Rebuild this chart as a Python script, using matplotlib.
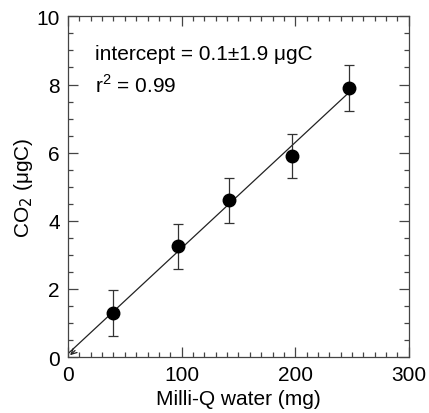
import numpy as np
import matplotlib.pyplot as plt
from matplotlib.ticker import MultipleLocator

plt.rcParams['font.family'] = ['Liberation Sans', 'DejaVu Sans']

# Measured points
water_mg = [40, 97, 142, 197, 247]
co2_ugC = [1.3, 3.25, 4.6, 5.9, 7.9]
co2_err = [0.67, 0.67, 0.67, 0.65, 0.67]

# Linear fit
slope = 0.031
intercept = 0.1

fs = 15

fig = plt.figure(figsize=(4.29, 4.14), dpi=100)
ax = fig.add_axes([0.1585, 0.135, 0.7945, 0.823])

xfit = np.array([0, max(water_mg)])
ax.plot(xfit, slope * xfit + intercept, color='#222222', lw=0.9)
ax.annotate('', xy=(0, 0), xytext=(8, 8 * slope),
            arrowprops=dict(arrowstyle='->', color='#222222', lw=0.9,
                            mutation_scale=10))

ax.errorbar(water_mg, co2_ugC, yerr=co2_err, fmt='o', color='black',
            ms=9, ecolor='#333333', elinewidth=0.9, capsize=3.5, capthick=0.9)

ax.set_xlim(0, 300)
ax.set_ylim(0, 10)
ax.xaxis.set_major_locator(MultipleLocator(100))
ax.xaxis.set_minor_locator(MultipleLocator(10))
ax.yaxis.set_major_locator(MultipleLocator(2))
ax.yaxis.set_minor_locator(MultipleLocator(0.5))
ax.tick_params(which='both', direction='in', top=True, right=True,
               labelsize=fs, colors='#444444', labelcolor='black', width=0.9)
ax.tick_params(which='major', length=7, pad=6)
ax.tick_params(which='minor', length=3.5)
for s in ax.spines.values():
    s.set_color('#444444')
    s.set_linewidth(0.9)

ax.set_xlabel('Milli-Q water (mg)', fontsize=fs, labelpad=3)
ax.set_ylabel('CO$_2$ (μgC)', fontsize=fs, labelpad=1)

ax.text(0.08, 0.89, 'intercept = 0.1±1.9 μgC', transform=ax.transAxes,
        fontsize=fs, va='center')
ax.text(0.08, 0.80, 'r$^{\\mathregular{2}}$ = 0.99', transform=ax.transAxes,
        fontsize=fs, va='center')

fig.savefig('out.png', dpi=100)
